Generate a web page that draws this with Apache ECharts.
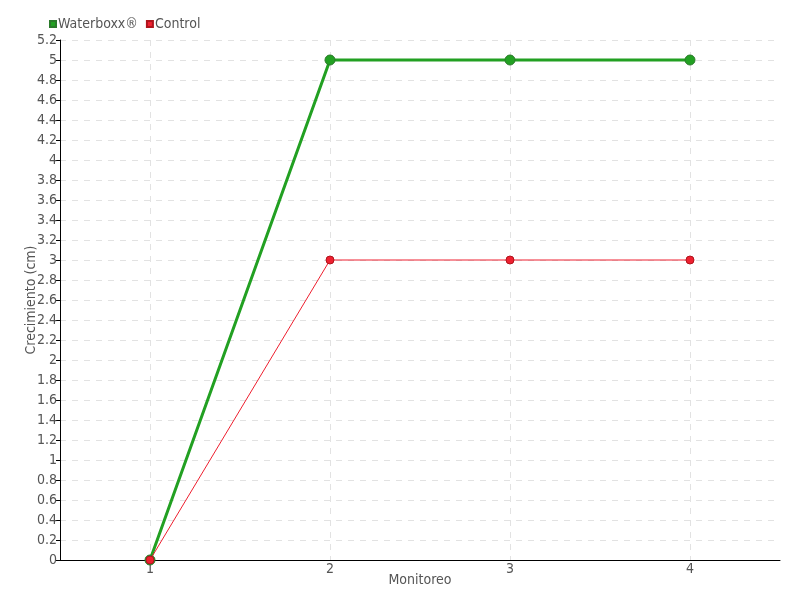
<!DOCTYPE html>
<html><head><meta charset="utf-8">
<script src="https://cdn.jsdelivr.net/npm/echarts@6/dist/echarts.min.js"></script>
<style>html,body{margin:0;padding:0;background:#fff}#c{width:800px;height:600px}</style>
</head><body><div id="c"></div>
<script>
var categories = ['1', '2', '3', '4'];
var waterboxx = [0, 5, 5, 5];
var control = [0, 3, 3, 3];
var FONT = 'DejaVu Sans Condensed';
var chart = echarts.init(document.getElementById('c'));
chart.setOption({
  animation: false,
  textStyle: { fontFamily: FONT },
  legend: {
    left: 44, top: 12, itemWidth: 6, itemHeight: 6, itemGap: 8,
    icon: 'rect',
    textStyle: { fontFamily: FONT, fontSize: 14, color: '#555', padding: [0, 0, 0, -3] },
    data: ['Waterboxx®', 'Control']
  },
  grid: { left: 60, right: 20, top: 40, bottom: 40, containLabel: false },
  xAxis: {
    type: 'category', data: categories, boundaryGap: true,
    name: 'Monitoreo', nameLocation: 'middle', nameGap: 20, nameMoveOverlap: false,
    nameTextStyle: { fontFamily: FONT, fontSize: 14, color: '#555', verticalAlign: 'middle', lineHeight: 14 },
    axisLine: { lineStyle: { color: '#000', width: 1 } },
    axisTick: { alignWithLabel: true, length: 5, lineStyle: { color: '#000' } },
    axisLabel: { fontFamily: FONT, fontSize: 14, color: '#555', margin: 2 },
    splitLine: { show: true, alignWithLabel: true, lineStyle: { type: [6, 6], color: '#e2e2e2' } }
  },
  yAxis: {
    type: 'value', min: 0, max: 5.2, interval: 0.2,
    name: 'Crecimiento (cm)', nameLocation: 'middle', nameGap: 29, nameMoveOverlap: false,
    nameTextStyle: { fontFamily: FONT, fontSize: 14, color: '#555', verticalAlign: 'middle' },
    axisLine: { show: true, lineStyle: { color: '#000', width: 1 } },
    axisTick: { show: true, length: 4, lineStyle: { color: '#000' } },
    axisLabel: { fontFamily: FONT, fontSize: 14, color: '#555', margin: 3,
      formatter: function (v) { return +v.toFixed(1) + ''; } },
    splitLine: { show: true, lineStyle: { type: [6, 6], color: '#e2e2e2' } }
  },
  series: [
    {
      name: 'Waterboxx®', type: 'line', data: waterboxx,
      symbol: 'circle', symbolSize: 10,
      itemStyle: { color: '#22a022', borderColor: '#2a7a2a', borderWidth: 1 },
      lineStyle: { color: '#22a022', width: 3 }, z: 2
    },
    {
      name: 'Control', type: 'line', data: control,
      symbol: 'circle', symbolSize: 8,
      itemStyle: { color: '#ee2030', borderColor: '#b0141c', borderWidth: 1 },
      lineStyle: { color: '#ee2030', width: 1 }, z: 3
    }
  ]
});
</script></body></html>
